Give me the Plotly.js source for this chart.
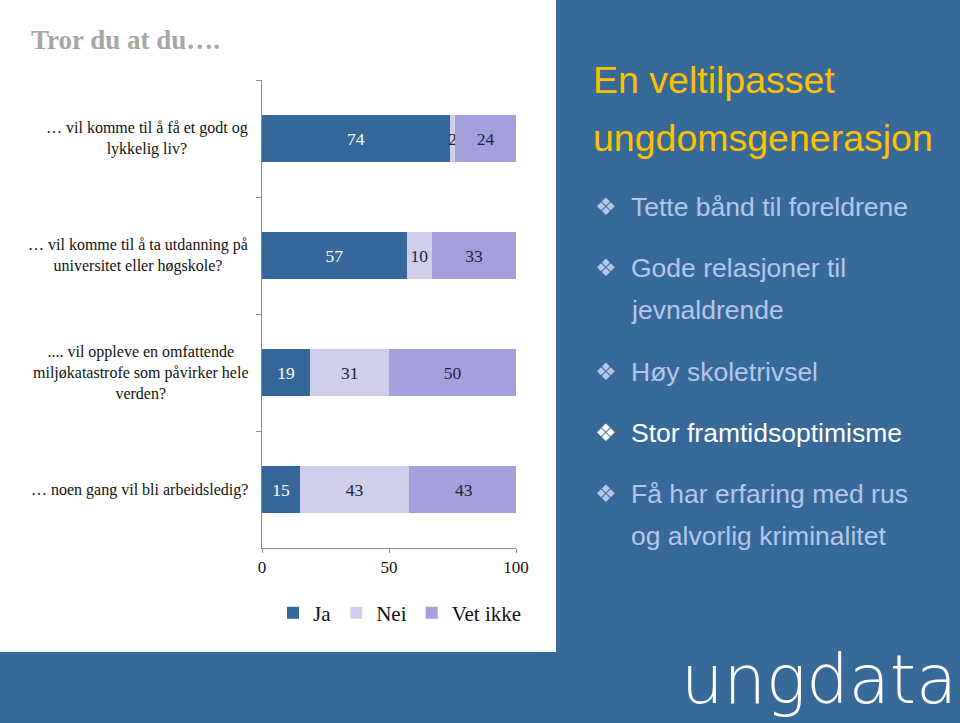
<!DOCTYPE html>
<html>
<head>
<meta charset="utf-8">
<script src="https://cdn.plot.ly/plotly-3.0.1.min.js"></script>
<style>
html,body{margin:0;padding:0;background:#fff;}
#chart{width:960px;height:723px;}
</style>
</head>
<body>
<div id="chart"></div>
<script>
// ---- data ----
const categories = ["q1", "q2", "q3", "q4"];
const categoryLabels = [
  "… vil komme til å få et godt og<br>lykkelig liv?",
  "… vil komme til å ta utdanning på<br>universitet eller høgskole?",
  ".... vil oppleve en omfattende<br>miljøkatastrofe som påvirker hele<br>verden?",
  "… noen gang vil bli arbeidsledig?"
];
const seriesNames = ["Ja", "Nei", "Vet ikke"];
const ja = [74, 57, 19, 15];
const nei = [2, 10, 31, 43];
const vetIkke = [24, 33, 50, 43];
const xTicks = [0, 50, 100];
const titleText = "Tror du at du….";
const panelTitle = ["En veltilpasset", "ungdomsgenerasjon"];
const bullets = [
  ["Tette bånd til foreldrene"],
  ["Gode relasjoner til", "jevnaldrende"],
  ["Høy skoletrivsel"],
  ["Stor framtidsoptimisme"],
  ["Få har erfaring med rus", "og alvorlig kriminalitet"]
];
const highlighted = 3;
const logoText = "ungdata";

// ---- styling ----
const W = 960, H = 723;
const py = y => (H - y) / H;
const px = x => x / W;
const blue = "#376A99";
const colors = ["#35679A", "#CFCFEC", "#A3A0DC"];
const textColors = ["#ffffff", "#1f1f3a", "#1f1f3a"];
const serif = "Liberation Serif, Times New Roman, serif";
const sans = "Liberation Sans, Arial, sans-serif";

const values = [ja, nei, vetIkke];
const traces = values.map((v, i) => ({
  type: "bar",
  orientation: "h",
  name: seriesNames[i],
  y: categories,
  x: v,
  marker: {color: colors[i], line: {width: 0}},
  text: v.map(String),
  texttemplate: "%{x}",
  textposition: "inside",
  insidetextanchor: "middle",
  constraintext: "none",
  textangle: 0,
  textfont: {family: serif, size: 17.5, color: textColors[i]},
  hoverinfo: "skip"
}));

const annotations = [];
annotations.push({
  text: "<b>" + titleText + "</b>", xref: "paper", yref: "paper",
  x: px(29), y: py(40), xanchor: "left", yanchor: "middle", showarrow: false,
  font: {family: serif, size: 27, color: "#A6A6A6"}
});
categories.forEach((c, i) => {
  annotations.push({
    text: categoryLabels[i], xref: "paper", yref: "y", x: px(250), y: c,
    xanchor: "right", yanchor: "middle", align: "center", showarrow: false,
    font: {family: serif, size: 16, color: "#111"}
  });
});
// right panel
panelTitle.forEach((t, i) => {
  annotations.push({
    text: t, xref: "paper", yref: "paper", x: px(591), y: py(80 + i * 58),
    xanchor: "left", yanchor: "middle", showarrow: false,
    font: {family: sans, size: 37.5, color: "#FFC000"}
  });
});
const bulletY = [[207], [268, 310], [372], [433], [494, 536]];
bullets.forEach((lines, i) => {
  const col = i === highlighted ? "#FFFFFF" : "#B4C6EA";
  annotations.push({
    text: "❖", xref: "paper", yref: "paper", x: px(606), y: py(bulletY[i][0]),
    xanchor: "center", yanchor: "middle", showarrow: false,
    font: {family: "DejaVu Sans", size: 24, color: col}
  });
  lines.forEach((l, j) => {
    annotations.push({
      text: l, xref: "paper", yref: "paper", x: px(629), y: py(bulletY[i][j]),
      xanchor: "left", yanchor: "middle", showarrow: false,
      font: {family: sans, size: 26.5, color: col}
    });
  });
});
annotations.push({
  text: logoText, xref: "paper", yref: "paper", x: px(819), y: py(680),
  xanchor: "center", yanchor: "middle", showarrow: false,
  font: {family: "DejaVu Sans, " + sans, size: 67, color: "#FFFFFF", weight: 200}
});

const layout = {
  width: W, height: H,
  margin: {l: 0, r: 0, t: 0, b: 0},
  paper_bgcolor: "#ffffff", plot_bgcolor: "rgba(0,0,0,0)",
  barmode: "stack", bargap: 0.6,
  showlegend: true,
  legend: {orientation: "h", x: px(400), y: py(613), xanchor: "center", yanchor: "middle",
    font: {family: serif, size: 21, color: "#111"}, itemwidth: 30, traceorder: "normal",
    bgcolor: "rgba(0,0,0,0)"},
  xaxis: {domain: [px(262), px(516)], range: [0, 100], tickvals: xTicks,
    ticks: "outside", ticklen: 4, tickcolor: "#8c8c8c", showline: true, linecolor: "#8c8c8c",
    linewidth: 1, showgrid: false, zeroline: false, fixedrange: true,
    tickfont: {family: serif, size: 17, color: "#111"}},
  yaxis: {domain: [py(548), py(80)], type: "category", categoryorder: "array",
    categoryarray: categories.slice().reverse(), showticklabels: false,
    ticks: "outside", ticklen: 5, tickcolor: "#8c8c8c", tickson: "boundaries",
    showline: true, linecolor: "#8c8c8c", linewidth: 1, showgrid: false, zeroline: false,
    fixedrange: true},
  shapes: [
    {type: "rect", xref: "paper", yref: "paper", x0: px(556), x1: 1, y0: py(652), y1: 1,
      fillcolor: blue, line: {width: 0}, layer: "below"},
    {type: "rect", xref: "paper", yref: "paper", x0: 0, x1: 1, y0: 0, y1: py(652),
      fillcolor: blue, line: {width: 0}, layer: "below"}
  ],
  annotations: annotations
};

Plotly.newPlot("chart", traces, layout, {displayModeBar: false, staticPlot: true});
</script>
</body>
</html>
